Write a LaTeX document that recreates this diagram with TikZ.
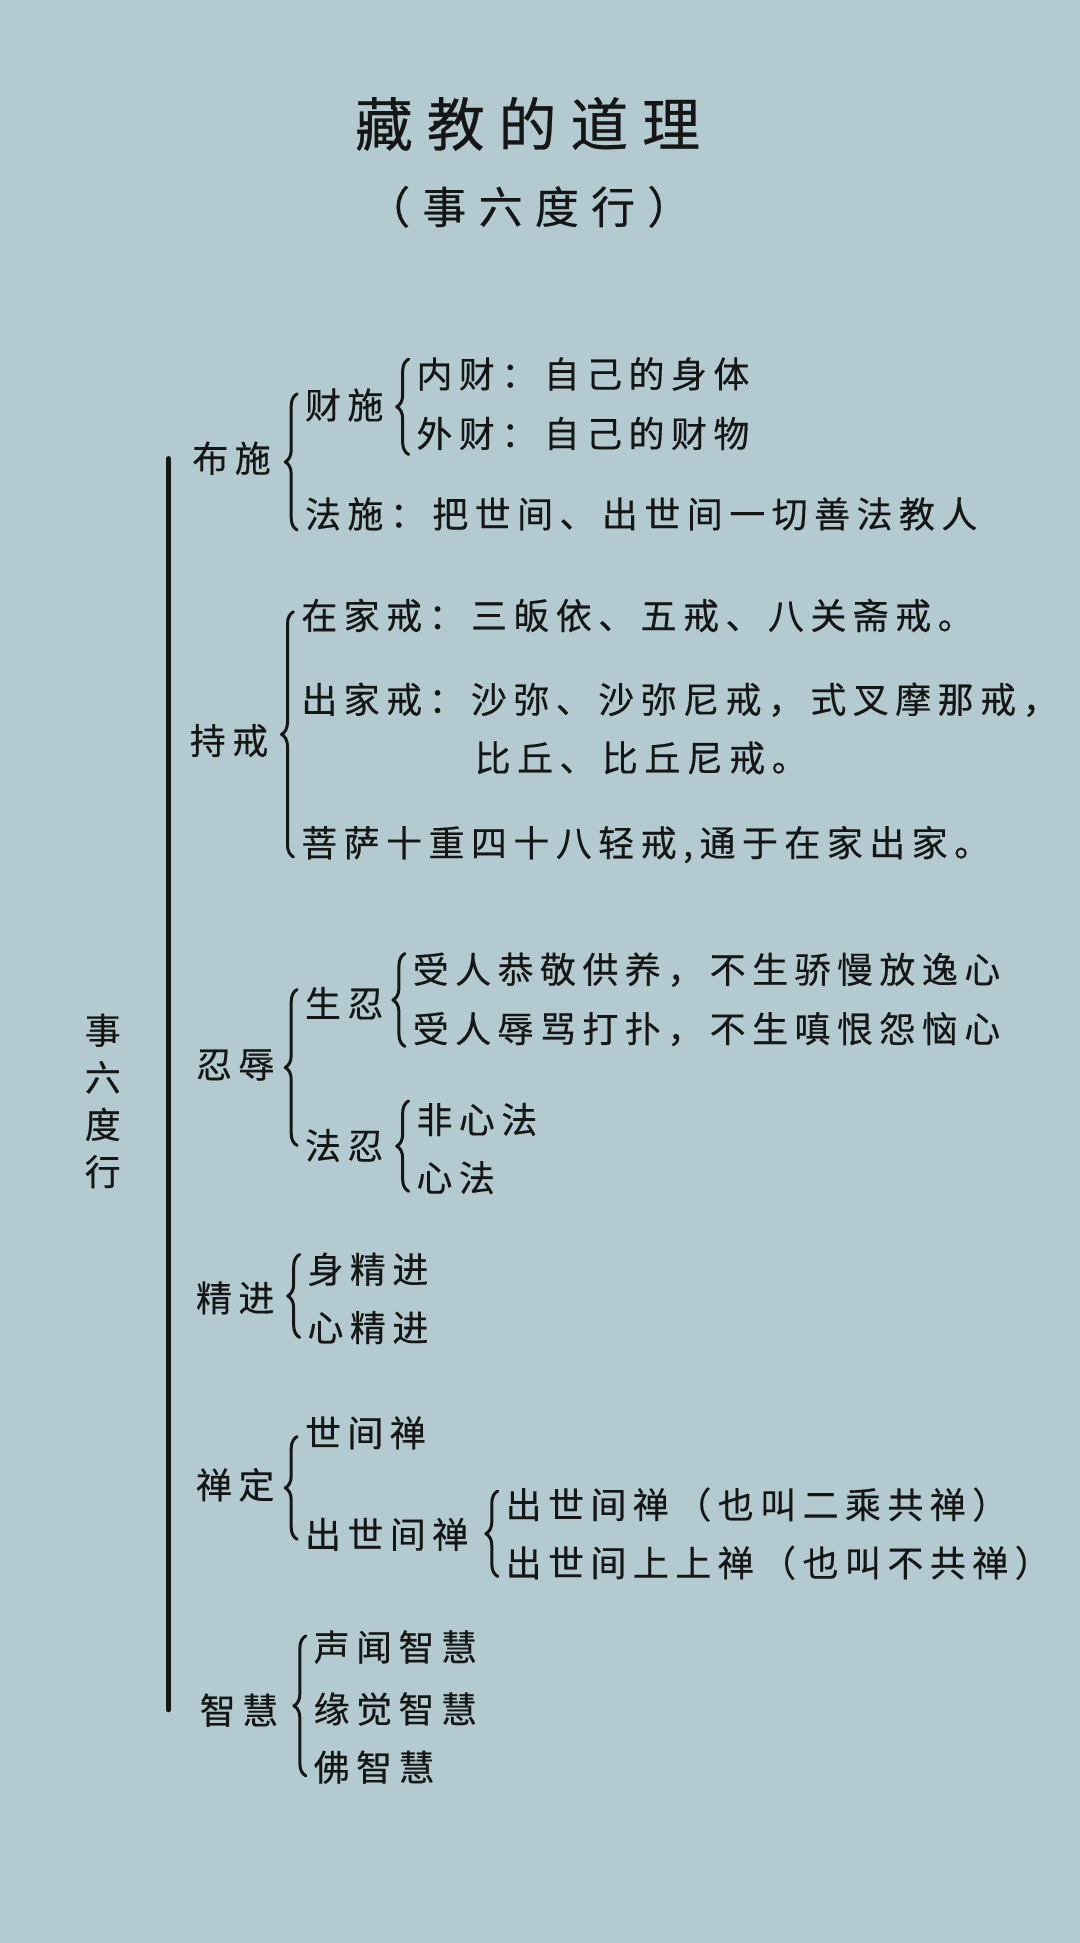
\documentclass[tikz,border=0pt]{standalone}
\usepackage{fontspec}
\setmainfont{Noto Sans CJK SC}
\newfontfamily\kai[LetterSpace=18,FakeBold=0.4]{Noto Sans CJK SC}
\newfontfamily\kaiT[LetterSpace=24,FakeBold=0.5]{Noto Sans CJK SC}
\newfontfamily\kaiS[LetterSpace=28,FakeBold=0.4]{Noto Sans CJK SC}
\usetikzlibrary{calc,decorations.pathreplacing}
\definecolor{bgblue}{RGB}{179,203,208}
\definecolor{ink}{RGB}{22,22,22}
\begin{document}
\begin{tikzpicture}[x=0.62pt, y=-0.62pt, line join=round, line cap=round,
	txt/.style={inner sep=0pt, anchor=west, text=ink, font=\kai\fontsize{18}{22}\selectfont},
	brc/.style={draw=ink, line width=1.5pt, decorate, decoration={brace, amplitude=6pt}},
	bar/.style={draw=ink, line width=2.1pt}]
	\fill[bgblue] (0,0) rectangle (872,1569);
	\node[text=ink, font=\kaiT\fontsize{29}{34}\selectfont] (title) at (426,100) {藏教的道理};
	\node[text=ink, font=\kaiS\fontsize{22}{26}\selectfont] (subtitle) at (427,167) {（事六度行）};
	\node[txt, anchor=center, align=center, font=\kai\fontsize{18}{23.6}\selectfont] (root) at (83,889) {事\\六\\度\\行};
	\node[txt] (bushi) at (155,370) {布施};
	\node[txt] (chijie) at (153,598) {持戒};
	\node[txt] (renru) at (158,860) {忍辱};
	\node[txt] (jingjin) at (158,1048) {精进};
	\node[txt] (chanding) at (158,1199) {禅定};
	\node[txt] (zhihui) at (161,1381) {智慧};
	\node[txt] (caishi) at (246,327) {财施};
	\node[txt] (neicai) at (336,302) {内财：自己的身体};
	\node[txt] (waicai) at (336,350) {外财：自己的财物};
	\node[txt] (fashi) at (246,415) {法施：把世间、出世间一切善法教人};
	\node[txt] (zaijia) at (243,497) {在家戒：三皈依、五戒、八关斋戒。};
	\node[txt] (chujia) at (243,565) {出家戒：沙弥、沙弥尼戒，式叉摩那戒，};
	\node[txt] (biqiu) at (383,612) {比丘、比丘尼戒。};
	\node[txt] (pusa) at (243,682) {菩萨十重四十八轻戒,通于在家出家。};
	\node[txt] (shengren) at (246,810) {生忍};
	\node[txt] (gongjing) at (333,783) {受人恭敬供养，不生骄慢放逸心};
	\node[txt] (ruma) at (333,831) {受人辱骂打扑，不生嗔恨怨恼心};
	\node[txt] (faren) at (246,925) {法忍};
	\node[txt] (feixin) at (336,904) {非心法};
	\node[txt] (xinfa) at (336,951) {心法};
	\node[txt] (shenjj) at (248,1025) {身精进};
	\node[txt] (xinjj) at (248,1072) {心精进};
	\node[txt] (shijian) at (246,1157) {世间禅};
	\node[txt] (chushi) at (246,1239) {出世间禅};
	\node[txt] (ercheng) at (408,1215) {出世间禅（也叫二乘共禅）};
	\node[txt] (bugong) at (408,1262) {出世间上上禅（也叫不共禅）};
	\node[txt] (shengwen) at (253,1330) {声闻智慧};
	\node[txt] (yuanjue) at (253,1380) {缘觉智慧};
	\node[txt] (fozhi) at (253,1427) {佛智慧};
	\draw[bar] (136,0 |- bushi.west) -- (136,0 |- zhihui.west);
	\draw[brc] ($(fashi.west)+(-6,13)$) -- ($(caishi.west)+(-6,-9)$);
	\draw[brc] ($(waicai.west)+(-6,17)$) -- ($(neicai.west)+(-6,-12)$);
	\draw[brc] ($(pusa.west)+(-6,10)$) -- ($(zaijia.west)+(-6,-3)$);
	\draw[brc] ($(faren.west)+(-6,0)$) -- ($(shengren.west)+(-6,-11)$);
	\draw[brc] ($(ruma.west)+(-6,14)$) -- ($(gongjing.west)+(-6,-13)$);
	\draw[brc] ($(xinfa.west)+(-6,11)$) -- ($(feixin.west)+(-6,-15)$);
	\draw[brc] ($(xinjj.west)+(-6,8)$) -- ($(shenjj.west)+(-6,-12)$);
	\draw[brc] ($(chushi.west)+(-6,4)$) -- ($(shijian.west)+(-6,3)$);
	\draw[brc] ($(bugong.west)+(-6,11)$) -- ($(ercheng.west)+(-6,-11)$);
	\draw[brc] ($(fozhi.west)+(-6,7)$) -- ($(shengwen.west)+(-6,-9)$);
\end{tikzpicture}
\end{document}
